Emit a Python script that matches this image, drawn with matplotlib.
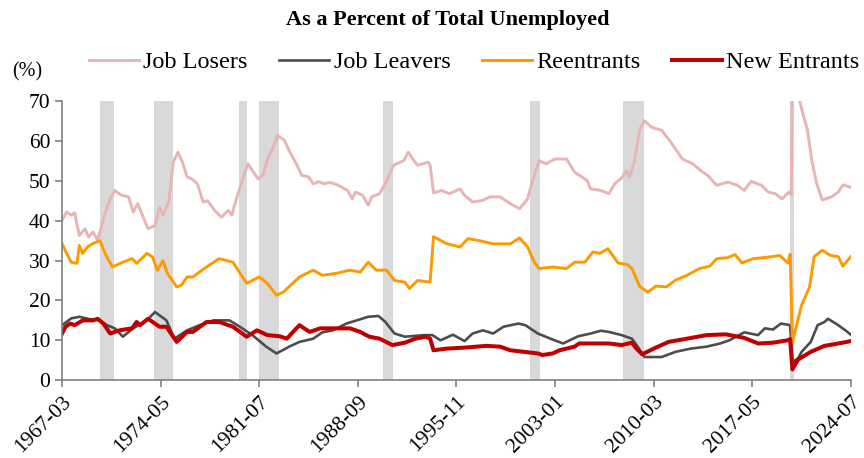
import pandas as pd
import matplotlib.pyplot as plt

plt.rcParams['font.family'] = ['Liberation Serif', 'DejaVu Serif']

# Job Losers (% of total unemployed)
losers_dates = ['1967-03', '1967-07', '1967-11', '1968-02', '1968-06', '1968-11', '1969-02', '1969-06',
                '1969-10', '1970-04', '1970-09', '1971-01', '1971-07', '1972-01', '1972-05', '1972-09',
                '1973-01', '1973-06', '1973-12', '1974-04', '1974-07', '1974-12', '1975-04', '1975-08',
                '1975-12', '1976-04', '1976-08', '1977-01', '1977-06', '1977-10', '1978-04', '1978-10',
                '1979-04', '1979-07', '1979-12', '1980-09', '1981-06', '1981-10', '1982-03', '1982-08',
                '1982-11', '1983-05', '1983-09', '1984-04', '1984-08', '1985-02', '1985-06', '1985-11',
                '1986-03', '1986-09', '1987-04', '1987-12', '1988-04', '1988-07', '1989-01', '1989-06',
                '1989-09', '1990-04', '1990-11', '1991-04', '1992-01', '1992-05', '1992-09', '1993-01',
                '1993-10', '1993-12', '1994-03', '1994-10', '1995-05', '1996-02', '1996-06', '1997-01',
                '1997-10', '1998-04', '1999-01', '1999-10', '2000-06', '2001-01', '2001-05', '2001-11',
                '2002-05', '2003-01', '2003-11', '2004-06', '2005-05', '2005-08', '2006-05', '2006-12',
                '2007-05', '2007-11', '2008-03', '2008-06', '2008-10', '2009-03', '2009-07', '2010-01',
                '2010-10', '2011-06', '2012-04', '2013-01', '2013-08', '2014-02', '2014-10', '2015-08',
                '2016-04', '2016-10', '2017-04', '2018-01', '2018-07', '2019-01', '2019-07', '2020-01',
                '2020-03', '2020-04', '2020-07', '2020-10', '2021-01', '2021-05', '2021-09', '2022-01',
                '2022-06', '2023-02', '2023-08', '2023-12', '2024-07']
losers = [40.1, 42.2, 41.4, 42.0, 36.3, 38.0, 35.9, 37.2,
          35.1, 41.4, 45.5, 47.6, 46.4, 46.0, 42.2, 44.3,
          41.4, 38.0, 38.8, 43.4, 41.4, 44.7, 54.7, 57.2,
          54.7, 51.0, 50.5, 49.3, 44.7, 45.0, 42.6, 40.9,
          42.6, 41.4, 46.4, 54.3, 50.5, 51.4, 56.0, 58.9,
          61.4, 60.2, 57.6, 53.9, 51.4, 51.0, 49.3, 49.8,
          49.3, 49.6, 48.9, 47.6, 45.5, 47.2, 46.4, 43.9,
          46.0, 46.8, 50.5, 53.9, 55.1, 57.2, 55.5, 53.9,
          54.7, 54.0, 47.0, 47.6, 46.8, 48.0, 46.4, 44.7,
          45.1, 46.0, 46.0, 44.3, 43.0, 45.5, 49.7, 55.1,
          54.3, 55.5, 55.5, 52.2, 50.1, 48.0, 47.6, 46.8,
          49.3, 50.7, 52.6, 51.0, 54.7, 63.0, 65.1, 63.5,
          62.7, 59.7, 55.5, 54.3, 52.6, 51.4, 48.9, 49.7,
          48.9, 47.6, 49.9, 48.9, 47.2, 46.8, 45.5, 47.2,
          46.5, 78.3, 74.0, 70.5, 67.0, 63.0, 55.0, 49.5,
          45.2, 46.0, 47.2, 49.0, 48.4]

# Job Leavers
leavers_dates = ['1967-03', '1967-11', '1968-06', '1969-03', '1969-12', '1970-06', '1971-01', '1971-08',
                 '1972-05', '1973-05', '1973-12', '1974-10', '1975-05', '1976-04', '1977-03', '1978-03',
                 '1979-05', '1980-02', '1981-01', '1982-01', '1982-10', '1983-06', '1983-09', '1984-06',
                 '1985-06', '1986-02', '1986-11', '1987-11', '1988-08', '1989-06', '1990-03', '1990-09',
                 '1991-05', '1992-02', '1993-07', '1994-02', '1994-09', '1995-08', '1996-06', '1997-01',
                 '1997-10', '1998-07', '1999-04', '2000-05', '2000-11', '2001-10', '2002-09', '2003-08',
                 '2004-09', '2005-08', '2006-05', '2006-12', '2007-11', '2008-08', '2009-01', '2009-07',
                 '2010-10', '2011-10', '2012-11', '2014-01', '2015-01', '2015-09', '2016-10', '2017-10',
                 '2018-04', '2018-11', '2019-06', '2020-02', '2020-04', '2020-09', '2020-12', '2021-08',
                 '2022-02', '2022-08', '2022-11', '2023-08', '2024-04', '2024-07']
leavers = [13.8, 15.5, 15.9, 15.3, 15.0, 13.8, 13.0, 10.9,
           13.0, 15.0, 17.1, 15.0, 10.4, 12.5, 13.8, 15.0,
           15.0, 13.4, 11.3, 8.4, 6.7, 7.9, 8.4, 9.6,
           10.4, 12.0, 12.5, 14.2, 15.0, 15.9, 16.1, 14.6,
           11.7, 10.9, 11.3, 11.3, 10.0, 11.4, 9.8, 11.7,
           12.5, 11.7, 13.4, 14.2, 13.8, 11.7, 10.4, 9.2,
           11.0, 11.7, 12.4, 12.1, 11.3, 10.4, 8.4, 5.8,
           5.8, 7.1, 7.9, 8.4, 9.2, 10.0, 12.0, 11.3,
           13.0, 12.7, 14.2, 13.8, 4.5, 5.5, 7.1, 9.6,
           13.8, 14.6, 15.4, 13.8, 12.1, 11.4]

# Reentrants
reentrants_dates = ['1967-03', '1967-07', '1967-11', '1968-04', '1968-06', '1968-09', '1969-01', '1969-06',
                    '1969-12', '1970-06', '1970-11', '1971-08', '1972-04', '1972-08', '1973-05', '1973-10',
                    '1974-02', '1974-07', '1974-11', '1975-07', '1975-11', '1976-04', '1976-09', '1977-09',
                    '1978-08', '1979-08', '1980-08', '1981-07', '1982-02', '1982-10', '1983-04', '1984-06',
                    '1985-06', '1986-02', '1987-02', '1988-02', '1988-11', '1989-06', '1990-01', '1990-10',
                    '1991-05', '1992-02', '1992-06', '1993-01', '1993-12', '1994-03', '1995-02', '1996-02',
                    '1996-09', '1997-07', '1998-07', '1999-10', '2000-06', '2001-01', '2001-07', '2001-11',
                    '2002-11', '2003-11', '2004-06', '2005-03', '2005-10', '2006-04', '2006-11', '2007-08',
                    '2008-04', '2008-08', '2009-03', '2009-10', '2010-05', '2011-02', '2011-10', '2012-08',
                    '2013-07', '2014-04', '2014-10', '2015-07', '2016-02', '2016-08', '2017-06', '2018-08',
                    '2019-05', '2019-12', '2020-02', '2020-04', '2020-12', '2021-07', '2021-11', '2022-06',
                    '2023-01', '2023-08', '2023-12', '2024-07']
reentrants = [34.3, 31.8, 29.6, 29.3, 33.8, 31.8, 33.4, 34.3,
              35.0, 30.9, 28.4, 29.6, 30.5, 29.3, 31.8, 30.9,
              27.6, 30.0, 26.7, 23.4, 23.8, 25.9, 25.9, 28.4,
              30.5, 29.6, 24.3, 25.9, 24.3, 21.3, 22.1, 25.9,
              27.6, 26.3, 26.8, 27.6, 27.1, 29.6, 27.6, 27.6,
              25.0, 24.6, 23.0, 25.0, 24.6, 36.0, 34.3, 33.4,
              35.5, 35.0, 34.2, 34.2, 35.7, 33.4, 29.6, 28.0,
              28.4, 28.0, 29.6, 29.6, 32.2, 31.8, 33.0, 29.4,
              29.0, 28.0, 23.4, 22.1, 23.6, 23.4, 25.1, 26.3,
              28.0, 28.6, 30.5, 30.7, 31.5, 29.4, 30.5, 30.9,
              31.3, 29.4, 31.6, 9.5, 18.8, 23.4, 31.0, 32.6,
              31.3, 31.0, 28.6, 31.0]

# New Entrants
entrants_dates = ['1967-03', '1967-06', '1967-10', '1968-02', '1968-09', '1969-06', '1969-10', '1970-03',
                  '1970-09', '1971-05', '1972-04', '1972-08', '1972-11', '1973-06', '1974-04', '1974-10',
                  '1975-07', '1976-04', '1976-09', '1977-09', '1978-08', '1979-08', '1980-08', '1981-05',
                  '1982-02', '1983-01', '1983-07', '1984-06', '1985-03', '1985-12', '1986-11', '1988-02',
                  '1988-11', '1989-07', '1990-04', '1991-03', '1992-02', '1992-11', '1993-08', '1993-12',
                  '1994-03', '1995-02', '1996-08', '1998-01', '1999-01', '1999-10', '2000-10', '2001-10',
                  '2002-02', '2002-11', '2003-05', '2004-06', '2004-10', '2005-08', '2006-12', '2007-11',
                  '2008-08', '2008-12', '2009-05', '2010-03', '2011-04', '2012-08', '2014-01', '2015-06',
                  '2016-03', '2016-10', '2017-10', '2018-11', '2019-12', '2020-02', '2020-04', '2020-09',
                  '2021-08', '2022-08', '2023-08', '2024-07']
entrants = [11.7, 13.4, 14.2, 13.8, 15.0, 15.0, 15.4, 14.2,
            11.7, 12.5, 13.0, 14.6, 13.8, 15.4, 13.4, 13.4,
            9.6, 12.1, 12.1, 14.6, 14.6, 13.4, 10.9, 12.5,
            11.3, 11.0, 10.4, 13.8, 12.1, 13.0, 13.0, 13.0,
            12.1, 10.9, 10.4, 8.8, 9.4, 10.4, 10.9, 10.4,
            7.5, 7.9, 8.2, 8.6, 8.4, 7.5, 7.1, 6.7,
            6.3, 6.7, 7.5, 8.4, 9.2, 9.2, 9.2, 8.8,
            9.4, 7.9, 6.5, 7.9, 9.6, 10.4, 11.3, 11.5,
            11.0, 10.6, 9.2, 9.4, 10.0, 10.3, 2.7, 5.2,
            7.1, 8.6, 9.2, 9.8]

# shaded recession spans
recessions = [('1969-12', '1970-12'), ('1973-11', '1975-04'), ('1980-01', '1980-08'),
              ('1981-07', '1982-12'), ('1990-07', '1991-04'), ('2001-03', '2001-12'),
              ('2007-12', '2009-07'), ('2020-02', '2020-05')]

tick_labels = ['1967-03', '1974-05', '1981-07', '1988-09', '1995-11',
               '2003-01', '2010-03', '2017-05', '2024-07']

fig = plt.figure(figsize=(8.64, 4.58), dpi=100)
ax = fig.add_axes([0.0718, 0.170, 0.913, 0.609])

for start, end in recessions:
    ax.axvspan(pd.to_datetime(start), pd.to_datetime(end), color='#D9D9D9', lw=0, zorder=0)

# lines
ax.plot(pd.to_datetime(losers_dates), losers, color='#E8B4B6', lw=2.1, label='Job Losers')
ax.plot(pd.to_datetime(leavers_dates), leavers, color='#4D4D4D', lw=1.9, label='Job Leavers')
ax.plot(pd.to_datetime(reentrants_dates), reentrants, color='#FF9900', lw=2.1, label='Reentrants')
ax.plot(pd.to_datetime(entrants_dates), entrants, color='#C00000', lw=2.9, label='New Entrants')

ax.set_xlim(pd.to_datetime('1967-03'), pd.to_datetime('2024-07'))
ax.set_ylim(0, 70)
ax.set_yticks(range(0, 71, 10))
ax.set_xticks(pd.to_datetime(tick_labels))
ax.set_xticklabels(tick_labels, rotation=45, ha='right', va='top', rotation_mode='anchor')

for side in ['top', 'right']:
    ax.spines[side].set_visible(False)
for side in ['left', 'bottom']:
    ax.spines[side].set_color('#808080')
    ax.spines[side].set_linewidth(1.2)
ax.tick_params(axis='both', colors='#808080', labelcolor='black', labelsize=15.5,
               length=5, width=1.2, direction='out')
ax.tick_params(axis='x', pad=4)

fig.text(0.518, 0.956, 'As a Percent of Total Unemployed', ha='center', va='center',
         fontsize=16, fontweight='bold')
fig.text(0.031, 0.843, '(%)', ha='center', va='center', fontsize=14.5)

fig.legend(loc='center', bbox_to_anchor=(0.549, 0.864), ncol=4, frameon=False,
           fontsize=17.5, handlelength=2.06, handletextpad=0.17, columnspacing=1.3)

plt.savefig('out.png', dpi=100)
